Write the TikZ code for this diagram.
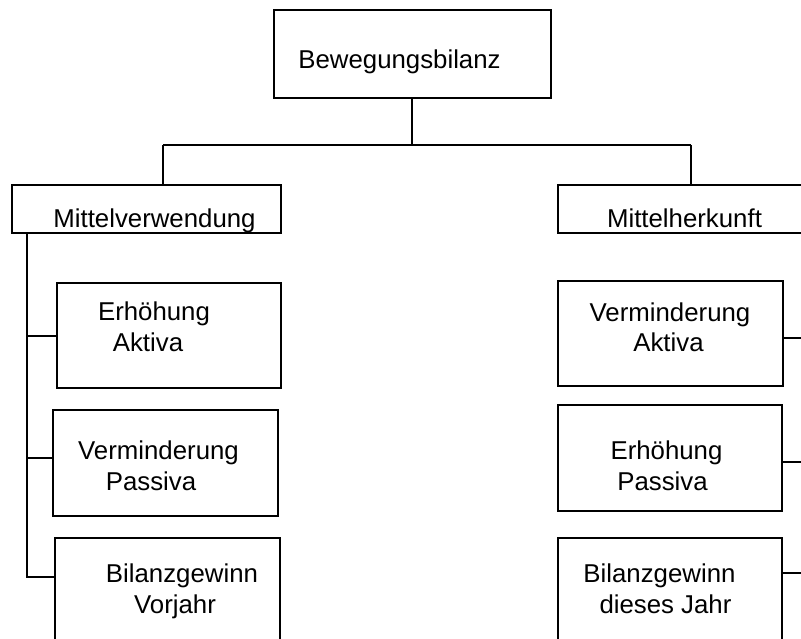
\documentclass[tikz,border=0pt]{standalone}
\usepackage{fontspec}
\setmainfont{Liberation Sans}
\begin{document}
\begin{tikzpicture}[x=1pt,y=-1pt,line width=2.2pt,
  box/.style={draw=black, rectangle, inner sep=0pt, line width=2.2pt},
  bigbox/.style={box, minimum width=225pt, minimum height=105pt},
  lbl/.style={anchor=base, inner sep=0pt, align=center, text=black, font=\fontsize{25.8}{31}\selectfont},
  conn/.style={draw=black, line width=2.2pt}]
\clip (0,0) rectangle (801,639);
% boxes
\node[box, minimum width=277pt, minimum height=88pt] (top) at (412.5,54) {};
\node[box, minimum width=269pt, minimum height=48pt] (mv) at (146.5,209) {};
\node[box, minimum width=269pt, minimum height=48pt] (mh) at (692.5,209) {};
\node[bigbox, minimum width=224pt] (a1) at (169,335.5) {};
\node[bigbox, minimum height=106pt] (a2) at (165.5,463) {};
\node[bigbox, minimum height=106pt] (a3) at (167.5,591) {};
\node[bigbox] (b1) at (670.5,333.5) {};
\node[bigbox, minimum width=224pt, minimum height=106pt] (b2) at (670,458) {};
\node[bigbox, minimum width=224pt, minimum height=106pt] (b3) at (670,591) {};
% texts
\node[lbl] (ttop) at (399.5,69) {Bewegungsbilanz};
\node[lbl] (tmv) at (154.5,227.5) {Mittelverwendung};
\node[lbl] (tmh) at (684.5,228) {Mittelherkunft};
\node[lbl] (ta1) at (154,351) {Erhöhung\\Aktiva\hspace*{12pt}};
\node[lbl] (ta2) at (158.5,490) {Verminderung\\Passiva\hspace*{15pt}};
\node[lbl] (ta3) at (182,613) {Bilanzgewinn\\Vorjahr\hspace*{14pt}};
\node[lbl] (tb1) at (670,352) {Verminderung\\Aktiva\hspace*{3pt}};
\node[lbl] (tb2) at (666.5,490) {Erhöhung\\Passiva\hspace*{8pt}};
\node[lbl] (tb3) at (659.5,613) {Bilanzgewinn\\\hspace*{12pt}dieses Jahr};
% junction coordinates
\coordinate (jt) at (412,145);
\coordinate (jl) at (163,145);
\coordinate (jr) at (691,145);
\coordinate (t0) at (27,233);
\coordinate (t1) at (27,336);
\coordinate (t2) at (27,458);
\coordinate (t3) at (27,577);
\coordinate (r1) at (801,338);
\coordinate (r2) at (801,462);
\coordinate (r3) at (801,573);
% connectors
\draw[conn] (jt |- top.south) -- (jt);
\draw[conn] (jl) -- (jr);
\draw[conn] (jl) -- (jl |- mv.north);
\draw[conn] (jr) -- (jr |- mh.north);
\draw[conn] (t0 |- mv.south) -- (t3) -- (a3.west |- t3);
\draw[conn] (t1) -- (a1.west |- t1);
\draw[conn] (t2) -- (a2.west |- t2);
\draw[conn] (b1.east |- r1) -- (r1);
\draw[conn] (b2.east |- r2) -- (r2);
\draw[conn] (b3.east |- r3) -- (r3);
\end{tikzpicture}
\end{document}
